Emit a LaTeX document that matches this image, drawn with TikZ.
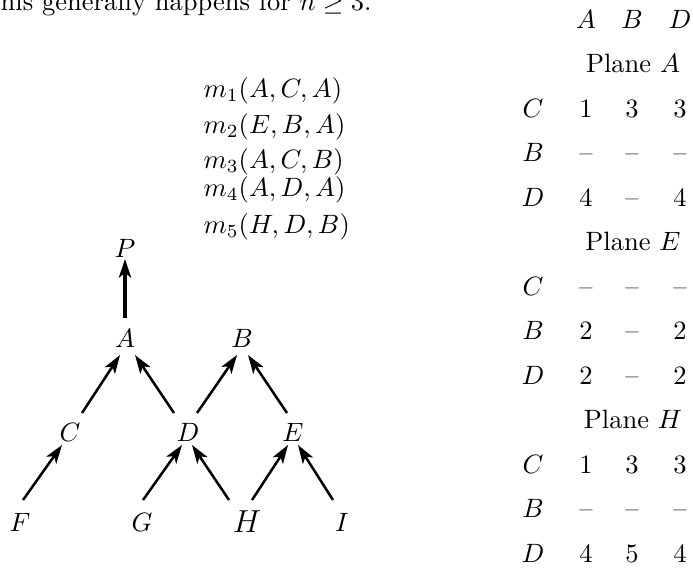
\documentclass[tikz,border=0pt]{standalone}
\usepackage{amsmath,amssymb}
\usetikzlibrary{arrows.meta}

\begin{document}
\begin{tikzpicture}[x=.377pt,y=-.377pt,
  vtx/.style={inner sep=1pt},
  cell/.style={inner sep=0pt,text height=1.5ex,text depth=.25ex},
  arr/.style={-{Stealth[length=7pt,width=4.6pt,inset=1.8pt]},line width=.95pt}]
\useasboundingbox (0,0) rectangle (693,567);
\node[anchor=base east,inner sep=0pt] (intro) at (372,10) {his generally happens for $n\geq 3$.};
% moves
\foreach \m/\txt [count=\i] in {91/{A,C,A},127/{E,B,A},162/{A,C,B},190/{A,D,A},227/{H,D,B}}
  \node[anchor=west,inner sep=0pt] (m\i) at (203,\m) {$m_\i(\txt)$};
% tree
\node[vtx] (P) at (125,248) {$P$};
\node[vtx] (A) at (125,338) {$A$};
\node[vtx] (B) at (242,338) {$B$};
\node[vtx] (C) at (70,432) {$C$};
\node[vtx] (D) at (188,432) {$D$};
\node[vtx] (E) at (293,432) {$E$};
\node[vtx] (F) at (20,522) {$F$};
\node[vtx] (G) at (142,522) {$G$};
\node[vtx,font=\large] (H) at (247,522) {$H$};
\node[vtx] (I) at (342,522) {$I$};
\draw[arr,line width=1.6pt] ([shift={(0,-20)}]A.center) -- ([shift={(0,11)}]P.center);
\foreach \s/\sx/\sy/\t/\tx/\ty in {F/3/-22/C/-8/13,G/1/-22/D/-6/13,H/-18/-22/D/4/13,H/5/-22/E/-5/13,I/-9/-22/E/5/13,
  C/12/-19/A/-5/17,D/-14/-19/A/10/17,D/9/-19/B/-5/17,E/-6/-19/B/6/17}
  \draw[arr] ([shift={(\sx,\sy)}]\s.center) -- ([shift={(\tx,\ty)}]\t.center);
% table of planes
\foreach \c/\x in {A/586,B/632,D/680} \node[cell] (top\c) at (\x,21) {$\c$};
\foreach \p/\r in {A/1,E/5,H/9} \node[cell] (plane\p) at (633,{21+44.5*\r}) {Plane $\p$};
\foreach \r/\l/\a/\b/\d in {2/C/1/3/3,3/B/--/--/--,4/D/4/--/4,6/C/--/--/--,7/B/2/--/2,8/D/2/--/2,10/C/1/3/3,11/B/--/--/--,12/D/4/5/4}{
  \node[cell] (lab\r) at (533,{21+44.5*\r}) {$\l$};
  \node[cell] (a\r) at (586,{21+44.5*\r}) {\a};
  \node[cell] (b\r) at (632,{21+44.5*\r}) {\b};
  \node[cell] (d\r) at (680,{21+44.5*\r}) {\d};
}
\end{tikzpicture}
\end{document}
